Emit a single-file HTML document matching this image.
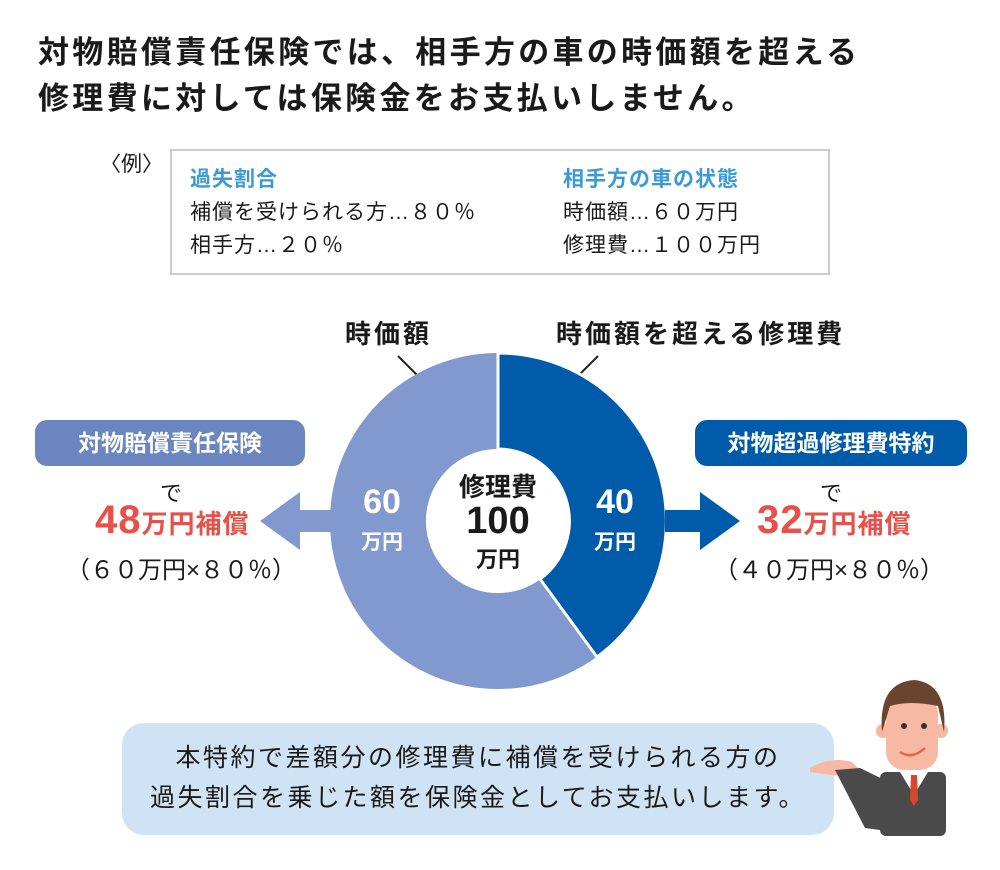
<!DOCTYPE html>
<html><head><meta charset="utf-8"><style>
body{margin:0;width:1000px;height:870px;background:#fff;position:relative;overflow:hidden;font-family:"Liberation Sans","Noto Sans CJK JP",sans-serif;color:#1a1a1a}
.a{position:absolute;white-space:nowrap}
</style></head><body>
<div class="a" style="left:38px;top:30px;font-size:31px;letter-spacing:3.3px;font-weight:bold;line-height:46px">対物賠償責任保険では、相手方の車の時価額を超える<br>修理費に対しては保険金をお支払いしません。</div>
<div class="a" style="left:100px;top:148px;font-size:21px">〈例〉</div>
<div class="a" style="left:170px;top:149px;width:660px;height:126px;border:2px solid #ccc;box-sizing:border-box"></div>
<div class="a" style="left:190px;top:163px;font-size:21px;line-height:33px;letter-spacing:1px"><b style="color:#3a9ad9">過失割合</b><br>補償を受けられる方…８０％<br>相手方…２０％</div>
<div class="a" style="left:563px;top:163px;font-size:21px;line-height:33px;letter-spacing:1px"><b style="color:#3a9ad9">相手方の車の状態</b><br>時価額…６０万円<br>修理費…１００万円</div>
<div class="a" style="left:345px;top:314px;font-size:26px;letter-spacing:3px;font-weight:bold">時価額</div>
<div class="a" style="left:556px;top:314px;font-size:26px;letter-spacing:3px;font-weight:bold">時価額を超える修理費</div>
<svg class="a" style="left:0;top:0" width="1000" height="870">
<line x1="398" y1="356" x2="428" y2="386" stroke="#222" stroke-width="2"/>
<line x1="598" y1="356" x2="568" y2="386" stroke="#222" stroke-width="2"/>
<circle cx="498" cy="521" r="120" fill="none" stroke="#8299cf" stroke-width="96"/>
<path d="M498 353 A168 168 0 0 1 597 657 L540 579 A72 72 0 0 0 498 449 Z" fill="#005bab" stroke="#fff" stroke-width="3"/>
<circle cx="498" cy="521" r="72" fill="#fff"/>
<polygon points="340,510 300,510 300,492 260,521 300,550 300,532 340,532" fill="#8299cf"/>
<polygon points="665,510 700,510 700,492 740,521 700,550 700,532 665,532" fill="#005bab"/>
</svg>
<div class="a" style="left:35px;top:420px;width:270px;height:46px;background:#6b85c0;border-radius:12px;color:#fff;font-size:23px;font-weight:bold;text-align:center;line-height:46px">対物賠償責任保険</div>
<div class="a" style="left:695px;top:420px;width:272px;height:46px;background:#005bab;border-radius:12px;color:#fff;font-size:23px;font-weight:bold;text-align:center;line-height:46px">対物超過修理費特約</div>
<div class="a" style="left:160px;top:476px;font-size:22px">で</div>
<div class="a" style="left:820px;top:476px;font-size:22px">で</div>
<div class="a" style="left:95px;top:498px;font-size:40px;font-weight:bold;color:#e8504a;letter-spacing:1px">48<span style="font-size:26px">万円補償</span></div>
<div class="a" style="left:757px;top:498px;font-size:40px;font-weight:bold;color:#e8504a;letter-spacing:1px">32<span style="font-size:26px">万円補償</span></div>
<div class="a" style="left:66px;top:550px;font-size:24px">（６０万円×８０％）</div>
<div class="a" style="left:714px;top:550px;font-size:24px">（４０万円×８０％）</div>
<div class="a" style="left:352px;top:484px;width:60px;text-align:center;color:#fff;font-weight:bold;font-size:34px;line-height:36px">60<br><span style="font-size:21px">万円</span></div>
<div class="a" style="left:585px;top:484px;width:60px;text-align:center;color:#fff;font-weight:bold;font-size:34px;line-height:36px">40<br><span style="font-size:21px">万円</span></div>
<div class="a" style="left:448px;top:470px;width:100px;text-align:center;font-weight:bold;font-size:26px;line-height:34px">修理費<br><span style="font-size:38px">100</span><br><span style="font-size:22px">万円</span></div>
<div class="a" style="left:122px;top:723px;width:712px;height:112px;background:#cfe3f4;border-radius:22px"></div>
<div class="a" style="left:122px;top:738px;width:712px;text-align:center;font-size:25px;letter-spacing:2.5px;line-height:40px">本特約で差額分の修理費に補償を受けられる方の<br>過失割合を乗じた額を保険金としてお支払いします。</div>
<svg class="a" style="left:780px;top:660px" width="220" height="210">
<path d="M30 108 Q50 96 72 102 L80 110 L60 116 L30 112 Z" fill="#f7b8a4"/>
<path d="M55 110 L85 168 L115 172 L115 125 L80 108 Z" fill="#4a4a4a"/>
<rect x="100" y="112" width="66" height="64" rx="6" fill="#4a4a4a"/>
<polygon points="120,112 148,112 134,135" fill="#fff"/>
<polygon points="131,115 137,115 138,140 134,146 130,140" fill="#d9482b"/>
<rect x="106" y="36" width="52" height="74" rx="18" fill="#f7b8a4"/>
<circle cx="103" cy="71" r="7" fill="#f7b8a4"/><circle cx="161" cy="71" r="7" fill="#f7b8a4"/>
<path d="M102 72 Q98 22 135 20 Q168 24 164 72 L158 46 Q130 40 110 46 Z" fill="#6b4430"/>
<circle cx="124" cy="66" r="3" fill="#333"/><circle cx="144" cy="66" r="3" fill="#333"/>
<path d="M120 92 Q132 100 145 88" stroke="#e0664a" stroke-width="2.5" fill="none"/>
</svg>
</body></html>
